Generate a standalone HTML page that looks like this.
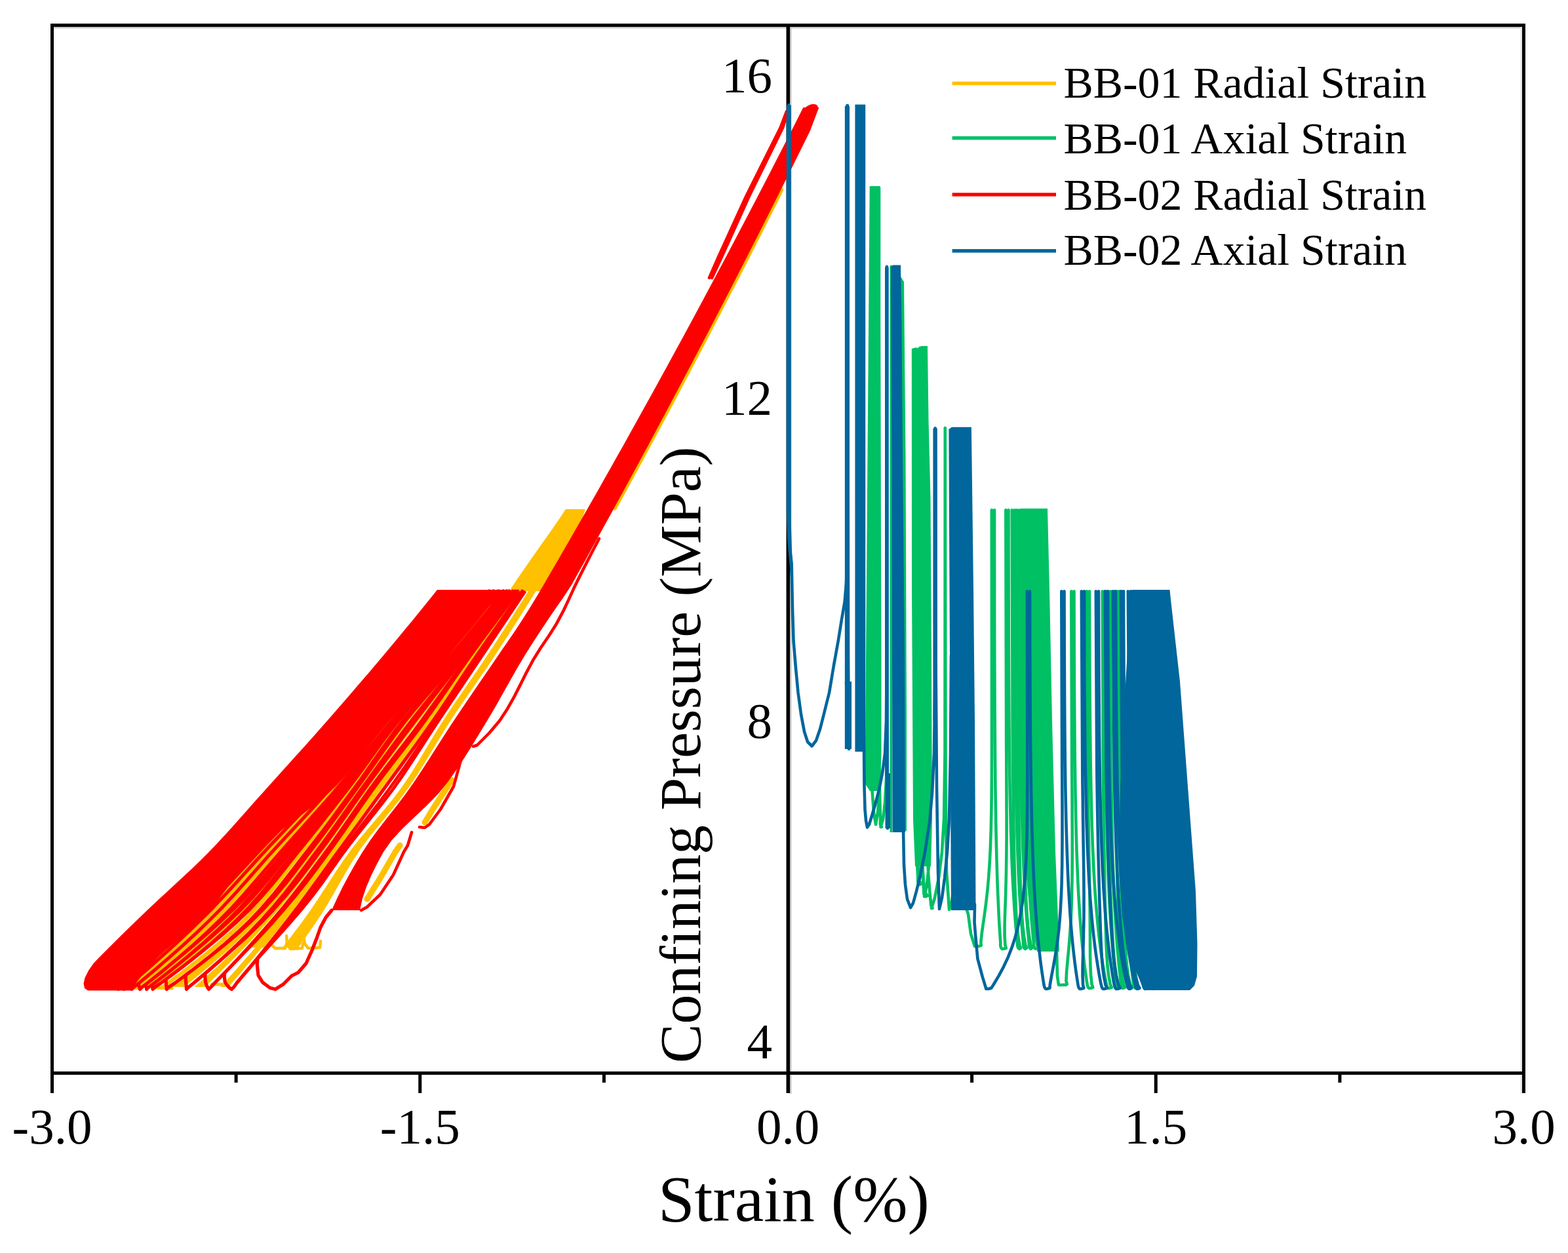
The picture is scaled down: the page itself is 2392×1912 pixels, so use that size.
<!DOCTYPE html>
<html><head><meta charset="utf-8"><title>Strain vs Confining Pressure</title>
<style>html,body{margin:0;padding:0;background:#fff;}svg{display:block;}</style></head>
<body>
<svg width="2392" height="1912" viewBox="0 0 2392 1912">
<rect width="2392" height="1912" fill="#fff"/>
<rect x="82" y="41" width="2240" height="2.4" fill="#c8c8c8"/>
<rect x="1205" y="41" width="2.4" height="1628" fill="#c4c4c4"/>
<rect x="2319.6" y="41" width="2.4" height="1628" fill="#e4e4e4"/>
<rect x="77" y="36" width="2250" height="5" fill="#000"/>
<rect x="77" y="1635" width="2250" height="5" fill="#000"/>
<rect x="77" y="36" width="5" height="1632" fill="#000"/>
<rect x="2322" y="36" width="5" height="1632" fill="#000"/>
<rect x="1199.5" y="36" width="5.5" height="1632" fill="#000"/>
<rect x="638.25" y="1635" width="5" height="33" fill="#000"/>
<rect x="1760.75" y="1635" width="5" height="33" fill="#000"/>
<rect x="357.60" y="1635" width="5" height="17" fill="#000"/>
<rect x="918.90" y="1635" width="5" height="17" fill="#000"/>
<rect x="1480.10" y="1635" width="5" height="17" fill="#000"/>
<rect x="2041.40" y="1635" width="5" height="17" fill="#000"/>
<path d="M863 777L851 794.9L838.7 812.7L826 830.6L813.4 848.4L801 866.3L788.7 884.1L776.7 902L829.1 902L837.6 884.1L846.7 866.3L856.7 848.4L868 830.6L878.8 812.7L887.1 794.9L893 777Z" fill="#ffc000"/>
<path d="M807.8 899L796.1 917.9L784.2 936.7L772.2 955.6L760 974.4L747.7 993.3L735.2 1012.2L722.4 1031L709.4 1049.9L696.5 1068.8L683.8 1087.6L671.5 1106.5L660 1125.3L648.8 1144.2L637.6 1163.1L625.9 1181.9L613.2 1200.8L599 1219.7L583.5 1238.5L567.5 1257.4L551.6 1276.2L536.7 1295.1L523.1 1314L510.4 1332.8L498.2 1351.7L486 1370.6L473.3 1389.4L459.8 1408.3L445.7 1427.1L431.2 1446L455 1446L468.5 1427.1L481.5 1408.3L493.8 1389.4L505.1 1370.6L515.8 1351.7L526.6 1332.8L537.9 1314L550.4 1295.1L564.4 1276.2L579.6 1257.4L595.1 1238.5L610.2 1219.7L624.1 1200.8L636.7 1181.9L648.5 1163.1L659.9 1144.2L671.3 1125.3L683 1106.5L695.4 1087.6L708.2 1068.8L721.2 1049.9L734.3 1031L747.1 1012.2L759.6 993.3L771.9 974.4L784 955.6L795.9 936.7L807.7 917.9L819.4 899Z" fill="#ffc000"/>
<path d="M793.2 899L778.6 917.9L764.2 936.7L750 955.6L735.9 974.4L722 993.3L708.3 1012.2L695 1031L681.8 1049.9L668.6 1068.8L655.2 1087.6L641.5 1106.5L627.3 1125.3L612.8 1144.2L598.2 1163.1L583.8 1181.9L569.8 1200.8L556.3 1219.7L543.2 1238.5L530.2 1257.4L517 1276.2L503.6 1295.1L489.7 1314L475.6 1332.8L461.3 1351.7L446.6 1370.6L431.5 1389.4L416 1408.3L399.9 1427.1L383.4 1446L402.3 1446L417.5 1427.1L432.5 1408.3L447.1 1389.4L461.4 1370.6L475.4 1351.7L489.1 1332.8L502.8 1314L516.6 1295.1L530.2 1276.2L543.6 1257.4L557.1 1238.5L570.5 1219.7L584.1 1200.8L598 1181.9L612.1 1163.1L626.2 1144.2L640.2 1125.3L653.8 1106.5L666.9 1087.6L679.6 1068.8L692 1049.9L704.4 1031L717 1012.2L730 993.3L743.2 974.4L756.6 955.6L770.2 936.7L784 917.9L797.9 899Z" fill="#ffc000"/>
<path d="M794.5 899L778.5 919.9L762.7 940.9L747.2 961.8L731.8 982.7L716.8 1003.7L702.2 1024.6L687.9 1045.5L673.7 1066.4L659.2 1087.4L644.2 1108.3L628.4 1129.2L612.3 1150.2L596.1 1171.1L580.2 1192L565 1213L550.3 1233.9L535.9 1254.8L521.3 1275.8L506.4 1296.7L491 1317.6L475.5 1338.6L459.6 1359.5L443.3 1380.4L426.6 1401.3L409.4 1422.3L391.7 1443.2L373.6 1464.1L355.1 1485.1L336.1 1506L348.7 1506L366.7 1485.1L384.4 1464.1L401.7 1443.2L418.7 1422.3L435.4 1401.3L451.6 1380.4L467.4 1359.5L482.9 1338.6L498.2 1317.6L513.4 1296.7L528.4 1275.8L543.2 1254.8L557.9 1233.9L572.7 1213L587.9 1192L603.6 1171.1L619.5 1150.2L635.3 1129.2L650.7 1108.3L665.4 1087.4L679.5 1066.4L693.3 1045.5L707.1 1024.6L721.3 1003.7L736 982.7L750.9 961.8L766.1 940.9L781.5 919.9L797.1 899Z" fill="#ffc000"/>
<path d="M789.2 899L772.8 919.9L756.4 940.9L740 961.8L723.6 982.7L707.1 1003.7L690.6 1024.6L674 1045.5L657.4 1066.4L641.1 1087.4L625.1 1108.3L609.4 1129.2L593.9 1150.2L578.5 1171.1L563.2 1192L548.1 1213L533.3 1233.9L518.6 1254.8L503.8 1275.8L488.5 1296.7L472.8 1317.6L457 1338.6L440.8 1359.5L423.7 1380.4L405.5 1401.3L386 1422.3L365.2 1443.2L343.4 1464.1L320.4 1485.1L296.5 1506L312.6 1506L334.3 1485.1L355.3 1464.1L375.5 1443.2L394.9 1422.3L413.5 1401.3L431.2 1380.4L448 1359.5L464.1 1338.6L479.9 1317.6L495.4 1296.7L510.5 1275.8L525.2 1254.8L539.7 1233.9L554.4 1213L569.5 1192L585.1 1171.1L600.9 1150.2L616.8 1129.2L632.7 1108.3L648.3 1087.4L663.9 1066.4L679.4 1045.5L694.9 1024.6L710.6 1003.7L726.5 982.7L742.5 961.8L758.6 940.9L774.8 919.9L791.1 899Z" fill="#ffc000"/>
<path d="M785.1 899L768.6 919.9L751.8 940.9L734.8 961.8L717.6 982.7L700.1 1003.7L681.8 1024.6L663.1 1045.5L644.4 1066.4L626.5 1087.4L609.8 1108.3L594.3 1129.2L579.5 1150.2L565 1171.1L550.2 1192L535 1213L519.6 1233.9L504.2 1254.8L488.6 1275.8L472.6 1296.7L456.5 1317.6L440.6 1338.6L424.2 1359.5L406.7 1380.4L387.4 1401.3L366.1 1422.3L342.8 1443.2L317.7 1464.1L290.9 1485.1L262.7 1506L280.7 1506L306.8 1485.1L331.7 1464.1L355.2 1443.2L377.2 1422.3L397.6 1401.3L416.3 1380.4L433.6 1359.5L449.9 1338.6L465.7 1317.6L481.5 1296.7L497.1 1275.8L512.2 1254.8L527.2 1233.9L542.2 1213L557.3 1192L572.3 1171.1L587.2 1150.2L602.3 1129.2L617.9 1108.3L634.2 1087.4L651.3 1066.4L668.9 1045.5L686.5 1024.6L703.9 1003.7L720.9 982.7L737.7 961.8L754.4 940.9L771 919.9L787.5 899Z" fill="#ffc000"/>
<path d="M781 899L764.4 919.9L747.4 940.9L730.2 961.8L712.6 982.7L694.7 1003.7L676 1024.6L656.7 1045.5L637.4 1066.4L618.8 1087.4L601.7 1108.3L585.8 1129.2L570.7 1150.2L555.7 1171.1L540.5 1192L524.6 1213L508.4 1233.9L492.1 1254.8L475.5 1275.8L458.7 1296.7L442 1317.6L425.6 1338.6L408.8 1359.5L390.8 1380.4L371.1 1401.3L349.2 1422.3L325.3 1443.2L299.6 1464.1L272.3 1485.1L243.4 1506L253 1506L282 1485.1L309.4 1464.1L335 1443.2L358.8 1422.3L380.5 1401.3L400 1380.4L417.7 1359.5L434.2 1338.6L450.3 1317.6L466.6 1296.7L482.9 1275.8L498.9 1254.8L514.7 1233.9L530.3 1213L545.8 1192L560.6 1171.1L575.2 1150.2L590 1129.2L605.6 1108.3L622.5 1087.4L640.8 1066.4L659.9 1045.5L679.1 1024.6L697.7 1003.7L715.4 982.7L732.8 961.8L750 940.9L766.8 919.9L783.4 899Z" fill="#ffc000"/>
<path d="M775.8 899L759.3 919.9L742.4 940.9L725.2 961.8L707.7 982.7L689.8 1003.7L671.1 1024.6L651.9 1045.5L632.6 1066.4L613.9 1087.4L596.2 1108.3L579.6 1129.2L563.6 1150.2L547.7 1171.1L531.4 1192L514.4 1213L496.8 1233.9L478.9 1254.8L460.9 1275.8L442.8 1296.7L425.2 1317.6L407.9 1338.6L390.4 1359.5L372 1380.4L352 1401.3L330.3 1422.3L307 1443.2L282.2 1464.1L256.1 1485.1L228.8 1506L234.8 1506L263 1485.1L289.7 1464.1L314.9 1443.2L338.5 1422.3L360.4 1401.3L380.3 1380.4L398.5 1359.5L415.7 1338.6L432.5 1317.6L449.8 1296.7L467.3 1275.8L484.7 1254.8L501.9 1233.9L518.8 1213L535.4 1192L551.2 1171.1L566.7 1150.2L582.3 1129.2L598.6 1108.3L616 1087.4L634.7 1066.4L654 1045.5L673.3 1024.6L692 1003.7L709.9 982.7L727.5 961.8L744.7 940.9L761.6 919.9L778.2 899Z" fill="#ffc000"/>
<path d="M771.6 899L755.1 919.9L738.3 940.9L721.1 961.8L703.6 982.7L685.7 1003.7L667.1 1024.6L647.8 1045.5L628.6 1066.4L609.7 1087.4L591.8 1108.3L574.8 1129.2L558.2 1150.2L541.7 1171.1L524.8 1192L507.1 1213L488.9 1233.9L470.3 1254.8L451.6 1275.8L432.9 1296.7L414.7 1317.6L397 1338.6L379.1 1359.5L360.4 1380.4L340.2 1401.3L318.5 1422.3L295.5 1443.2L271.3 1464.1L245.9 1485.1L219.5 1506L225.2 1506L252.2 1485.1L277.9 1464.1L302.4 1443.2L325.6 1422.3L347.3 1401.3L367.3 1380.4L385.8 1359.5L403.5 1338.6L421 1317.6L438.9 1296.7L457.2 1275.8L475.5 1254.8L493.7 1233.9L511.6 1213L529 1192L545.5 1171.1L561.7 1150.2L577.9 1129.2L594.7 1108.3L612.4 1087.4L631.2 1066.4L650.5 1045.5L669.7 1024.6L688.3 1003.7L706.2 982.7L723.7 961.8L740.9 940.9L757.8 919.9L774.3 899Z" fill="#ffc000"/>
<path d="M765.3 899L748.9 919.9L732 940.9L714.8 961.8L697.3 982.7L679.4 1003.7L660.8 1024.6L641.6 1045.5L622.3 1066.4L603.3 1087.4L585.1 1108.3L567.6 1129.2L550.5 1150.2L533.4 1171.1L515.9 1192L497.6 1213L478.7 1233.9L459.5 1254.8L440.2 1275.8L421 1296.7L402.3 1317.6L384 1338.6L365.6 1359.5L346.5 1380.4L326.1 1401.3L304.5 1422.3L281.8 1443.2L258 1464.1L233.3 1485.1L207.6 1506L214.5 1506L240.7 1485.1L265.8 1464.1L289.8 1443.2L312.7 1422.3L334.4 1401.3L354.6 1380.4L373.4 1359.5L391.6 1338.6L409.5 1317.6L428 1296.7L446.8 1275.8L465.8 1254.8L484.7 1233.9L503.2 1213L521.1 1192L538.3 1171.1L555.1 1150.2L571.9 1129.2L589.1 1108.3L607.2 1087.4L626.1 1066.4L645.4 1045.5L664.6 1024.6L683.2 1003.7L701.1 982.7L718.6 961.8L735.8 940.9L752.7 919.9L769.1 899Z" fill="#ffc000"/>
<path d="M757.8 899L741.4 919.9L724.5 940.9L707.3 961.8L689.8 982.7L671.9 1003.7L653.3 1024.6L634.2 1045.5L614.9 1066.4L595.9 1087.4L577.4 1108.3L559.6 1129.2L542 1150.2L524.4 1171.1L506.3 1192L487.6 1213L468.3 1233.9L448.6 1254.8L428.7 1275.8L409.1 1296.7L389.9 1317.6L371 1338.6L352.1 1359.5L332.6 1380.4L312.1 1401.3L290.5 1422.3L268 1443.2L244.7 1464.1L220.6 1485.1L195.8 1506L201.7 1506L227 1485.1L251.4 1464.1L274.9 1443.2L297.5 1422.3L319.1 1401.3L339.6 1380.4L358.8 1359.5L377.5 1338.6L396.1 1317.6L415 1296.7L434.5 1275.8L454.1 1254.8L473.5 1233.9L492.7 1213L511.2 1192L529 1171.1L546.4 1150.2L563.7 1129.2L581.4 1108.3L599.7 1087.4L618.8 1066.4L638 1045.5L657.2 1024.6L675.8 1003.7L693.7 982.7L711.2 961.8L728.4 940.9L745.3 919.9L761.7 899Z" fill="#ffc000"/>
<path d="M750.7 899L734.2 919.9L717.4 940.9L700.2 961.8L682.6 982.7L664.7 1003.7L646.2 1024.6L627.2 1045.5L608 1066.4L588.9 1087.4L570.3 1108.3L552.2 1129.2L534.3 1150.2L516.3 1171.1L497.9 1192L478.9 1213L459.2 1233.9L439.2 1254.8L419.1 1275.8L399.1 1296.7L379.6 1317.6L360.3 1338.6L341 1359.5L321.1 1380.4L300.5 1401.3L278.9 1422.3L256.6 1443.2L233.7 1464.1L210.1 1485.1L185.8 1506L189.8 1506L214.3 1485.1L238.1 1464.1L261.2 1443.2L283.5 1422.3L305.1 1401.3L325.7 1380.4L345.4 1359.5L364.6 1338.6L383.7 1317.6L403.1 1296.7L423 1275.8L443 1254.8L462.9 1233.9L482.4 1213L501.3 1192L519.6 1171.1L537.5 1150.2L555.2 1129.2L573.2 1108.3L591.8 1087.4L610.9 1066.4L630.1 1045.5L649.2 1024.6L667.7 1003.7L685.6 982.7L703.1 961.8L720.3 940.9L737.2 919.9L753.6 899Z" fill="#ffc000"/>
<path d="M744.4 899L727.9 919.9L711 940.9L693.8 961.8L676.3 982.7L658.4 1003.7L640 1024.6L621 1045.5L601.8 1066.4L582.8 1087.4L564.1 1108.3L545.8 1129.2L527.7 1150.2L509.5 1171.1L490.9 1192L471.6 1213L451.8 1233.9L431.6 1254.8L411.4 1275.8L391.2 1296.7L371.3 1317.6L351.7 1338.6L332 1359.5L312 1380.4L291.2 1401.3L269.6 1422.3L247.5 1443.2L224.8 1464.1L201.6 1485.1L177.8 1506L180.8 1506L204.8 1485.1L228.1 1464.1L250.9 1443.2L273.1 1422.3L294.6 1401.3L315.4 1380.4L335.4 1359.5L354.9 1338.6L374.4 1317.6L394.2 1296.7L414.3 1275.8L434.5 1254.8L454.6 1233.9L474.4 1213L493.5 1192L512.1 1171.1L530.2 1150.2L548.3 1129.2L566.5 1108.3L585.1 1087.4L604.2 1066.4L623.4 1045.5L642.4 1024.6L660.9 1003.7L678.7 982.7L696.3 961.8L713.5 940.9L730.3 919.9L746.8 899Z" fill="#ffc000"/>
<path d="M489 1436L488 1446L470 1447L465 1440L462 1425 M462 1440L461 1447L443 1448L438 1440L437 1428 M437 1440L435 1447L420 1447L412 1440" fill="none" stroke="#ffc000" stroke-width="4.5" stroke-linejoin="round" stroke-linecap="round"/>
<path d="M323 1502L345 1502 M196 1507L215 1508 M232 1507L262 1508" fill="none" stroke="#ffc000" stroke-width="5" stroke-linejoin="round" stroke-linecap="round"/>
<path d="M1191.6 290L1183.2 306.7L1174.8 323.4L1166.3 340.2L1157.9 356.9L1149.4 373.6L1140.9 390.3L1132.3 407.1L1123.8 423.8L1115.2 440.5L1106.5 457.2L1097.9 474L1089.2 490.7L1080.5 507.4L1071.8 524.1L1063 540.9L1054.2 557.6L1045.4 574.3L1036.5 591L1027.7 607.8L1018.8 624.5L1009.9 641.2L1000.9 657.9L991.9 674.7L982.9 691.4L973.9 708.1L964.8 724.8L955.7 741.6L946.6 758.3L937.5 775" fill="none" stroke="#ffc000" stroke-width="7" stroke-linejoin="round" stroke-linecap="round"/>
<path d="M689 1190L683 1200L660 1235L648 1255 M610 1290L603 1300L580 1340L560 1372" fill="none" stroke="#ffc000" stroke-width="9" stroke-linejoin="round" stroke-linecap="round"/>
<path d="M913.9 822L904.2 840.5L894.6 859.1L885.2 877.6L876.2 896.1L867.7 914.6L858.9 933.2L849 951.7L837.3 970.2L824.7 988.8L813.2 1007.3L803.3 1025.8L794 1044.4L784.6 1062.9L774.2 1081.4L762 1099.9L746.4 1118.5L728 1137L722 1139 M705 1150L703 1160L692 1200L672 1235L655 1258L648 1263L640 1262 M628 1270L622 1290L616 1300L600 1335L580 1365L560 1384L551 1389" fill="none" stroke="#ff0000" stroke-width="4.6" stroke-linejoin="round" stroke-linecap="round"/>
<path d="M1225.3 164L1216.4 181.8L1207.4 199.5L1198.3 217.3L1189.2 235L1180.1 252.8L1171 270.5L1161.8 288.3L1152.6 306L1143.3 323.8L1134 341.5L1124.7 359.3L1115.4 377L1106 394.8L1096.6 412.6L1087.1 430.3L1077.6 448.1L1068.1 465.8L1058.6 483.6L1049 501.3L1039.4 519.1L1029.7 536.8L1020 554.6L1010.3 572.3L1000.6 590.1L990.8 607.8L980.9 625.6L971.1 643.3L961.2 661.1L951.3 678.9L941.3 696.6L931.3 714.4L921.3 732.1L911.3 749.9L901.2 767.6L891 785.4L880.9 803.1L870.7 820.9L860.5 838.6L850.2 856.4L839.9 874.1L829.6 891.9L819.1 909.7L808.3 927.4L797.1 945.2L785.5 962.9L773.3 980.7L761.1 998.4L749 1016.2L736.8 1033.9L724.7 1051.7L712.6 1069.4L700.6 1087.2L688.7 1104.9L677.2 1122.7L665.9 1140.4L654.6 1158.2L643.1 1176L631.3 1193.7L618.8 1211.5L605.3 1229.2L591.4 1247L577.6 1264.7L564.6 1282.5L552.9 1300.2L542.2 1318L532.2 1335.7L522.7 1353.5L514 1371.2L506 1389L549 1389L552.9 1371.2L558.9 1353.5L566.4 1335.7L575.2 1318L584.9 1300.2L597.3 1282.5L613.7 1264.7L632.2 1247L651 1229.2L668.4 1211.5L682.7 1193.7L695.4 1176L707.2 1158.2L718.4 1140.4L729.2 1122.7L740 1104.9L750.7 1087.2L760.9 1069.4L770.8 1051.7L780.8 1033.9L790.9 1016.2L801.6 998.4L812.8 980.7L824.4 962.9L836.2 945.2L848.3 927.4L860.7 909.7L872.3 891.9L882.2 874.1L892.1 856.4L901.9 838.6L911.7 820.9L921.5 803.1L931.3 785.4L941 767.6L950.7 749.9L960.4 732.1L970 714.4L979.6 696.6L989.2 678.9L998.7 661.1L1008.2 643.3L1017.7 625.6L1027.1 607.8L1036.5 590.1L1045.9 572.3L1055.3 554.6L1064.6 536.8L1073.9 519.1L1083.2 501.3L1092.4 483.6L1101.6 465.8L1110.8 448.1L1119.9 430.3L1129 412.6L1138.1 394.8L1147.1 377L1156.2 359.3L1165.1 341.5L1174.1 323.8L1183 306L1191.9 288.3L1200.8 270.5L1209.6 252.8L1218.4 235L1227.2 217.3L1235.9 199.5L1242.6 181.8L1249.3 164Z" fill="#ff0000"/>
<ellipse cx="1236.5" cy="167" rx="12" ry="7" fill="#ff0000" transform="rotate(-25 1236.5 167)"/>
<path d="M667 900L657.8 911.5L648.5 922.9L639.2 934.4L629.9 945.9L620.5 957.3L611 968.8L601.5 980.3L591.9 991.8L582.3 1003.2L572.6 1014.7L562.9 1026.2L553.1 1037.6L543.2 1049.1L533.4 1060.6L523.4 1072L513.4 1083.5L503.4 1095L493.3 1106.4L483.2 1117.9L473 1129.4L462.7 1140.9L452.4 1152.3L442.1 1163.8L431.7 1175.3L421.4 1186.7L411 1198.2L400.7 1209.7L390.5 1221.1L380.4 1232.6L370.2 1244.1L360 1255.6L349.7 1267L339.1 1278.5L328.4 1290L317.3 1301.4L305.8 1312.9L293.9 1324.4L281.8 1335.8L269.4 1347.3L257 1358.8L244.5 1370.2L232.2 1381.7L220.1 1393.2L208.2 1404.7L196.5 1416.1L184.8 1427.6L173.2 1439.1L161.7 1450.5L150.2 1462L142.7 1470L135 1481L129.5 1492L127.5 1501L129 1508L134 1511.5L199.7 1511.5L208.3 1499L217.9 1486.5L228.4 1474.1L240.2 1461.6L253.9 1449.1L268.7 1436.6L283.7 1424.1L298 1411.7L310.8 1399.2L321.9 1386.7L332 1374.2L341.5 1361.7L350.7 1349.3L360 1336.8L369.7 1324.3L380.1 1311.8L391.6 1299.3L404.9 1286.9L419.7 1274.4L435.7 1261.9L452.2 1249.4L468.6 1236.9L484.6 1224.5L499.3 1212L512.5 1199.5L524.1 1187L534.9 1174.6L545 1162.1L554.8 1149.6L564.3 1137.1L573.9 1124.6L583.8 1112.2L594.3 1099.7L605.4 1087.2L617 1074.7L628.8 1062.2L640.8 1049.8L652.6 1037.3L664 1024.8L675 1012.3L685.1 999.8L694 987.4L702 974.9L710.3 962.4L720.1 949.9L732 937.4L745.8 925L761.2 912.5L778 900Z" fill="#ff0000"/>
<path d="M796.8 902L782.8 921.3L769 940.6L755.3 959.9L741.8 979.2L728.5 998.5L715.4 1017.7L702.6 1037L690 1056.3L677.2 1075.6L664.2 1094.9L650.7 1114.2L636.9 1133.5L622.9 1152.8L608.8 1172.1L594.7 1191.4L580.7 1210.6L566.7 1229.9L552.6 1249.2L538.6 1268.5L524.5 1287.8L510.4 1307.1L496.5 1326.4L482.6 1345.7L468.6 1365L454.3 1384.3L439.5 1403.5L424.5 1422.8L409.1 1442.1L393.4 1461.4L377.4 1480.7L361.1 1500L356.9 1506L353.4 1509.5 M420 1509.5L411.9 1507.5L400.5 1498.9L393.9 1488.1L392.3 1472.5L392.9 1462 M789.9 902L775 921.3L760.2 940.6L745.5 959.9L731 979.2L716.6 998.5L702.5 1017.7L688.6 1037L674.8 1056.3L660.9 1075.6L646.9 1094.9L632.6 1114.2L617.9 1133.5L603 1152.8L588.3 1172.1L573.8 1191.4L559.8 1210.6L546.2 1229.9L532.9 1249.2L519.5 1268.5L505.9 1287.8L491.8 1307.1L477.4 1326.4L462.8 1345.7L447.8 1365L432.4 1384.3L416.3 1403.5L399.6 1422.8L382.4 1442.1L364.6 1461.4L346.3 1480.7L327.5 1500L322 1506L318.5 1509.5 M353.4 1509.5L350.2 1507.5L345.7 1502.5L343.2 1498.2L342.2 1489.9L342.8 1484.4 M786 902L770.8 921.3L755.6 940.6L740.3 959.9L725 979.2L709.6 998.5L694.1 1017.7L678.3 1037L662.5 1056.3L646.8 1075.6L631.6 1094.9L616.9 1114.2L602.5 1133.5L588.5 1152.8L574.5 1172.1L560.6 1191.4L546.7 1210.6L532.9 1229.9L519.3 1249.2L505.6 1268.5L491.5 1287.8L477 1307.1L462.6 1326.4L447.9 1345.7L432.7 1365L416.6 1384.3L399.4 1403.5L380.9 1422.8L361.1 1442.1L340.3 1461.4L318.4 1480.7L295.6 1500L288.1 1506L284.6 1509.5 M318.5 1509.5L317 1507.5L314.8 1502.6L313.6 1498.5L312.8 1490.4L313.4 1485.1 M782.1 902L766.8 921.3L751.3 940.6L735.6 959.9L719.7 979.2L703.5 998.5L686.8 1017.7L669.4 1037L651.9 1056.3L634.8 1075.6L618.5 1094.9L603.5 1114.2L589.5 1133.5L575.9 1152.8L562.5 1172.1L548.9 1191.4L534.8 1210.6L520.6 1229.9L506.3 1249.2L491.8 1268.5L477.1 1287.8L462.1 1307.1L447.4 1326.4L432.5 1345.7L417.1 1365L400.6 1384.3L382.5 1403.5L362.5 1422.8L340.9 1442.1L317.6 1461.4L292.9 1480.7L266.9 1500L257.8 1506L254.3 1509.5 M284.6 1509.5L284.3 1507.5L284 1503L283.7 1499.7L283.1 1492.5L283.7 1487.6 M776.7 902L761.4 921.3L745.8 940.6L729.9 959.9L713.7 979.2L697.3 998.5L680.3 1017.7L662.6 1037L644.7 1056.3L627.2 1075.6L610.4 1094.9L594.8 1114.2L580.2 1133.5L566 1152.8L551.9 1172.1L537.4 1191.4L522.4 1210.6L507.1 1229.9L491.5 1249.2L475.8 1268.5L459.9 1287.8L444 1307.1L428.5 1326.4L413 1345.7L397.1 1365L380.1 1384.3L361.5 1403.5L341.2 1422.8L319.4 1442.1L296.1 1461.4L271.5 1480.7L245.6 1500L236.6 1506L233.1 1509.5 M254.3 1509.5L254.1 1507.5L253.9 1504L253.7 1502.6L253.1 1497.5L253.7 1494.1 M773 902L757.8 921.3L742.2 940.6L726.4 959.9L710.3 979.2L693.9 998.5L676.9 1017.7L659.3 1037L641.5 1056.3L623.9 1075.6L606.9 1094.9L591 1114.2L575.9 1133.5L561.1 1152.8L546.3 1172.1L531.2 1191.4L515.5 1210.6L499.3 1229.9L482.7 1249.2L466.1 1268.5L449.3 1287.8L432.7 1307.1L416.6 1326.4L400.7 1345.7L384.3 1365L367.1 1384.3L348.4 1403.5L328.2 1422.8L306.8 1442.1L284.2 1461.4L260.5 1480.7L235.6 1500L227.2 1506L223.7 1509.5 M233.1 1509.5L233 1507.5L232.7 1505.4L232.6 1506.3L231.9 1503.9L232.5 1502.4 M768.3 902L753.1 921.3L737.6 940.6L721.7 959.9L705.6 979.2L689.2 998.5L672.3 1017.7L654.7 1037L636.9 1056.3L619.2 1075.6L602.1 1094.9L585.8 1114.2L570.2 1133.5L554.9 1152.8L539.6 1172.1L523.9 1191.4L507.6 1210.6L490.7 1229.9L473.5 1249.2L456.2 1268.5L438.9 1287.8L421.8 1307.1L405.2 1326.4L388.7 1345.7L372 1365L354.5 1384.3L335.6 1403.5L315.6 1422.8L294.5 1442.1L272.3 1461.4L249.2 1480.7L225.1 1500L217.1 1506L213.6 1509.5 M223.7 1509.5L223.4 1507.5L223 1505.3L222.8 1506.1L222.2 1503.6L222.8 1501.9 M761.2 902L746 921.3L730.5 940.6L714.7 959.9L698.5 979.2L682.1 998.5L665.2 1017.7L647.7 1037L629.9 1056.3L612.2 1075.6L594.9 1094.9L578.3 1114.2L562.2 1133.5L546.3 1152.8L530.4 1172.1L514.1 1191.4L497.2 1210.6L479.8 1229.9L462 1249.2L444.1 1268.5L426.2 1287.8L408.6 1307.1L391.4 1326.4L374.5 1345.7L357.3 1365L339.4 1384.3L320.4 1403.5L300.4 1422.8L279.5 1442.1L257.8 1461.4L235.3 1480.7L212.1 1500L204.5 1506L201 1509.5 M213.6 1509.5L213.1 1507.5L212.4 1505L212.1 1505.3L211.4 1502.1L212 1500.1 M753.4 902L738.2 921.3L722.7 940.6L706.9 959.9L690.7 979.2L674.3 998.5L657.4 1017.7L640 1037L622.2 1056.3L604.5 1075.6L587.1 1094.9L570.3 1114.2L553.8 1133.5L537.6 1152.8L521.2 1172.1L504.5 1191.4L487.1 1210.6L469.3 1229.9L451.1 1249.2L432.7 1268.5L414.5 1287.8L396.4 1307.1L378.8 1326.4L361.4 1345.7L343.7 1365L325.5 1384.3L306.4 1403.5L286.4 1422.8L265.8 1442.1L244.5 1461.4L222.5 1480.7L199.9 1500L192.7 1506L189.2 1509.5 M201 1509.5L200.4 1507.5L199.6 1505.1L199.2 1505.5L198.5 1502.6L199.1 1500.7 M746.8 902L731.6 921.3L716.1 940.6L700.2 959.9L684.1 979.2L667.7 998.5L650.8 1017.7L633.4 1037L615.8 1056.3L598.1 1075.6L580.7 1094.9L563.7 1114.2L547 1133.5L530.5 1152.8L513.8 1172.1L496.8 1191.4L479.2 1210.6L461.1 1229.9L442.7 1249.2L424.2 1268.5L405.6 1287.8L387.3 1307.1L369.4 1326.4L351.6 1345.7L333.6 1365L315.1 1384.3L295.9 1403.5L276 1422.8L255.5 1442.1L234.5 1461.4L212.9 1480.7L190.8 1500L183.8 1506L180.3 1509.5 M189.2 1509.5L188.7 1507.5L188.1 1505.4L187.7 1506.5L187 1504.2L187.6 1502.7 M506 1389L497 1400L489 1415L483 1432L476 1450L467 1470L455 1484L445 1489L432 1502L420 1509.5" fill="none" stroke="#ff0000" stroke-width="5.2" stroke-linejoin="round" stroke-linecap="round"/>
<path d="M799.3 902L785.2 922.3L771.3 942.6L757.4 962.8L743.6 983.1L729.8 1003.4L716.3 1023.7L702.8 1043.9L689.4 1064.2L675.8 1084.5L662.2 1104.8L648.5 1125L634.7 1145.3L620.8 1165.6L606.6 1185.9L592.1 1206.1L577 1226.4L561.5 1246.7L545.9 1267L530.5 1287.2L515.5 1307.5L501 1327.8L486.6 1348.1L471.6 1368.3L455.8 1388.6L439.1 1408.9L421.8 1429.2L404.4 1449.4L386.9 1469.7L369.6 1490 M801.3 902L787.8 922.3L774.2 942.6L760.7 962.8L747.1 983.1L733.6 1003.4L720 1023.7L706.4 1043.9L692.8 1064.2L679.2 1084.5L665.7 1104.8L652.5 1125L639.4 1145.3L626.2 1165.6L612.6 1185.9L598.2 1206.1L582.8 1226.4L566.8 1246.7L550.5 1267L534.6 1287.2L519.5 1307.5L505.2 1327.8L490.9 1348.1L475.7 1368.3L459.4 1388.6L441.8 1408.9L423.7 1429.2L405.3 1449.4L387.1 1469.7L369.6 1490 M791.5 902L776 922.3L760.6 942.6L745.5 962.8L730.5 983.1L715.8 1003.4L701.5 1023.7L687.5 1043.9L673.6 1064.2L659.4 1084.5L644.8 1104.8L629.6 1125L614 1145.3L598.3 1165.6L582.8 1185.9L567.9 1206.1L553.5 1226.4L539.5 1246.7L525.5 1267L511.2 1287.2L496.5 1307.5L481.4 1327.8L466 1348.1L449.8 1368.3L432.7 1388.6L414.9 1408.9L396.3 1429.2L377 1449.4L357.2 1469.7L337.3 1490 M787.4 902L771.5 922.3L755.7 942.6L739.9 962.8L724.1 983.1L708.3 1003.4L692.5 1023.7L676.7 1043.9L661 1064.2L645.4 1084.5L629.9 1104.8L614.6 1125L599.5 1145.3L584.4 1165.6L569.5 1185.9L554.7 1206.1L540.3 1226.4L526.2 1246.7L511.9 1267L497.4 1287.2L482.4 1307.5L467.2 1327.8L451.5 1348.1L434.9 1368.3L417 1388.6L397.7 1408.9L376.9 1429.2L354.7 1449.4L331.5 1469.7L307.5 1490 M783.6 902L767.6 922.3L751.4 942.6L735 962.8L718.4 983.1L701.6 1003.4L684.1 1023.7L666.3 1043.9L648.5 1064.2L631.2 1084.5L615 1104.8L599.9 1125L585.4 1145.3L571.2 1165.6L556.9 1185.9L542.3 1206.1L527.6 1226.4L512.8 1246.7L497.9 1267L482.8 1287.2L467.2 1307.5L451.9 1327.8L436.2 1348.1L419.3 1368.3L400.8 1388.6L380.4 1408.9L357.8 1429.2L333.4 1449.4L307.5 1469.7L280.5 1490 M778.3 902L762.2 922.3L745.7 942.6L729 962.8L712 983.1L694.6 1003.4L676.5 1023.7L657.8 1043.9L639.1 1064.2L621 1084.5L604.1 1104.8L588.5 1125L573.7 1145.3L559.2 1165.6L544.5 1185.9L529.2 1206.1L513.5 1226.4L497.6 1246.7L481.6 1267L465.3 1287.2L448.9 1307.5L432.9 1327.8L416.7 1348.1L399.3 1368.3L380.3 1388.6L359.2 1408.9L336.2 1429.2L311.7 1449.4L285.9 1469.7L259.2 1490 M774.9 902L758.8 922.3L742.4 942.6L725.7 962.8L708.7 983.1L691.3 1003.4L673.2 1023.7L654.6 1043.9L635.9 1064.2L617.6 1084.5L600.5 1104.8L584.4 1125L569 1145.3L553.9 1165.6L538.5 1185.9L522.5 1206.1L505.9 1226.4L489 1246.7L472 1267L454.8 1287.2L437.7 1307.5L421.1 1327.8L404.3 1348.1L386.6 1368.3L367.3 1388.6L346.1 1408.9L323.3 1429.2L299.3 1449.4L274.4 1469.7L248.6 1490 M771.1 902L755.1 922.3L738.7 942.6L722 962.8L705.1 983.1L687.7 1003.4L669.7 1023.7L651.1 1043.9L632.4 1064.2L614.1 1084.5L596.7 1104.8L580.3 1125L564.4 1145.3L548.6 1165.6L532.6 1185.9L515.9 1206.1L498.6 1226.4L481 1246.7L463.1 1267L445.2 1287.2L427.5 1307.5L410.3 1327.8L393.1 1348.1L374.9 1368.3L355.2 1388.6L333.8 1408.9L311 1429.2L287.3 1449.4L262.8 1469.7L237.7 1490" fill="none" stroke="#ff0000" stroke-width="4.6" stroke-linejoin="round" stroke-linecap="butt"/>
<path d="M1200 170L1190.5 195L1138 300L1096 392L1082 424 M1200 176L1194 195L1142.5 300L1101 392L1086 424" fill="none" stroke="#ff0000" stroke-width="4.6" stroke-linejoin="round" stroke-linecap="round"/>
<path d="M1326.7 284L1341.6 284L1343 500L1344.5 1000L1344.5 1150L1342 1207L1327 1207L1319 1195L1318 1150L1320 1130Z" fill="#00c064"/>
<rect x="1357.5" y="405" width="3.5" height="865" fill="#00c064"/>
<path d="M1374 422L1379 430L1381.5 700L1383 1100L1383 1268L1374 1268Z" fill="#00c064"/>
<path d="M1390.8 532L1398.5 530L1399.5 552L1401 529.5L1406 528L1415 528L1416.5 640L1419.5 760L1421 1000L1422 1250L1420 1322L1396 1322L1393 1250L1391 900Z" fill="#00c064"/>
<path d="M1552.4 779L1560 776L1598 776L1601 900L1605 1100L1610 1300L1614 1400L1616 1452L1582 1452L1572 1400L1562 1300L1557 1100L1554 900Z" fill="#00c064"/>
<path d="M1341 286.3L1341 375.8L1341 465.2L1341 554.7L1341 644.2L1341 733.6L1341 823.1L1341 912.5L1341 1002L1341 1015.2L1341.1 1028.3L1341.1 1041.5L1341.1 1054.6L1341.1 1067.8L1341.1 1080.9L1341.2 1094.1L1341.2 1107.3L1341.2 1120.4L1341.3 1133.6L1341.4 1146.7L1341.5 1159.9L1341.6 1173.1L1341.7 1186.2L1341.9 1199.4L1342.1 1212.5L1342.4 1225.7L1342.7 1238.8L1343.1 1252L1342.7 1257L1343.5 1260L1345 1261.7 M1343.5 1262L1347 1250L1350 1225L1352 1190L1353 1150 M1330 1200L1333 1240L1336 1258 M1336 1258L1339 1240L1341 1215 M1396 533.3L1396 602.9L1396 672.5L1396 742.1L1396 811.6L1396 881.2L1396 950.8L1396 1020.4L1396.1 1090L1396.1 1103.2L1396.2 1116.3L1396.2 1129.5L1396.3 1142.6L1396.3 1155.8L1396.4 1168.9L1396.5 1182.1L1396.5 1195.3L1396.7 1208.4L1396.8 1221.6L1397 1234.7L1397.2 1247.9L1397.4 1261.1L1397.7 1274.2L1398 1287.4L1398.5 1300.5L1399 1313.7L1399.6 1326.8L1400.3 1340L1400.2 1345L1401 1348L1402.5 1349.7 M1404 533.3L1404 605.1L1404 677L1404 748.8L1404 820.6L1404 892.5L1404 964.3L1404.1 1036.2L1404.1 1108L1404.2 1121.2L1404.2 1134.3L1404.3 1147.5L1404.3 1160.6L1404.4 1173.8L1404.5 1186.9L1404.5 1200.1L1404.7 1213.3L1404.8 1226.4L1405 1239.6L1405.2 1252.7L1405.4 1265.9L1405.7 1279.1L1406 1292.2L1406.5 1305.4L1407 1318.5L1407.6 1331.7L1408.3 1344.8L1409.2 1358L1409.2 1363L1410 1366L1411.5 1367.7 M1402.5 1349.7L1402.9 1350L1405.1 1348.8L1402.3 1344L1400.6 1329.9L1399.7 1315.8L1399.2 1301.7L1399 1287.7L1398.9 1273.6L1398.9 1259.5L1399 1245.4L1399.1 1231.3L1399.1 1217.2L1399.2 1203.1L1399.3 1189L1399.4 1175L1399.4 1160.9L1399.5 1146.8L1399.5 1132.7L1399.6 1118.6L1399.6 1104.5L1399.6 1090.4L1399.7 1076.3L1399.7 1062.3L1399.7 1048.2L1399.7 1034.1L1399.7 1020L1399.8 533.3 M1412 533.3L1412 607.4L1412 681.5L1412 755.6L1412 829.6L1412 903.7L1412 977.8L1412.1 1051.9L1412.2 1126L1412.3 1139.2L1412.3 1152.3L1412.4 1165.5L1412.5 1178.6L1412.6 1191.8L1412.7 1204.9L1412.8 1218.1L1413 1231.3L1413.2 1244.4L1413.4 1257.6L1413.7 1270.7L1414.1 1283.9L1414.5 1297.1L1415 1310.2L1415.7 1323.4L1416.4 1336.5L1417.4 1349.7L1418.5 1362.8L1419.8 1376L1420.2 1381L1421 1384L1422.5 1385.7 M1411.5 1367.7L1412.3 1368L1415 1366.8L1411.3 1362L1409.2 1347.9L1408.1 1333.8L1407.4 1319.7L1407.1 1305.7L1407 1291.6L1407 1277.5L1407 1263.4L1407.1 1249.3L1407.1 1235.2L1407.2 1221.1L1407.3 1207L1407.4 1193L1407.4 1178.9L1407.5 1164.8L1407.5 1150.7L1407.6 1136.6L1407.6 1122.5L1407.6 1108.4L1407.7 1094.3L1407.7 1080.3L1407.7 1066.2L1407.7 1052.1L1407.7 1038L1407.8 533.3 M1401 1350L1404 1335L1406 1310 M1410 1368L1414 1350L1417 1320 M1421 1386L1426 1370L1432 1340L1437 1300L1440 1250L1441.5 1150L1441.8 653 M1441.8 653L1442.5 1200L1444 1330L1448 1388L1452 1375L1457 1340L1460 1300 M1460 1300L1466 1350L1472 1380L1477 1395L1481 1425L1487 1444 M1517 778.3L1517 829.5L1517.1 880.7L1517.1 931.9L1517.2 983.1L1517.4 1034.4L1517.6 1085.6L1517.9 1136.8L1518.3 1188L1518.4 1201.2L1518.6 1214.3L1518.8 1227.5L1519 1240.6L1519.2 1253.8L1519.4 1266.9L1519.7 1280.1L1520 1293.3L1520.3 1306.4L1520.7 1319.6L1521.1 1332.7L1521.5 1345.9L1522 1359.1L1522.6 1372.2L1523.2 1385.4L1523.8 1398.5L1524.5 1411.7L1525.4 1424.8L1526.3 1438L1526.2 1443L1527 1446L1528.5 1447.7 M1490.5 1443.7L1492.6 1444L1496.8 1442.8L1496.3 1438L1497.8 1423.9L1499.8 1409.8L1501.8 1395.7L1503.7 1381.7L1505.4 1367.6L1506.9 1353.5L1508.1 1339.4L1509.1 1325.3L1510 1311.2L1510.7 1297.1L1511.2 1283L1511.7 1269L1512 1254.9L1512.3 1240.8L1512.5 1226.7L1512.7 1212.6L1512.8 1198.5L1512.9 1184.4L1512.9 1170.3L1513 1156.3L1513 1142.2L1513 1128.1L1513 1114L1512.8 778.3 M1538.5 778.3L1538.5 829.5L1538.6 880.7L1538.7 931.9L1538.8 983.1L1539 1034.4L1539.3 1085.6L1539.7 1136.8L1540.4 1188L1540.6 1201.2L1540.8 1214.3L1541.1 1227.5L1541.4 1240.6L1541.7 1253.8L1542 1266.9L1542.4 1280.1L1542.9 1293.3L1543.3 1306.4L1543.8 1319.6L1544.4 1332.7L1545.1 1345.9L1545.8 1359.1L1546.6 1372.2L1547.4 1385.4L1548.4 1398.5L1549.4 1411.7L1550.6 1424.8L1551.9 1438L1552.2 1443L1553 1446L1554.5 1447.7 M1528.5 1447.7L1530.6 1448L1534.8 1446.8L1533.4 1442L1532.6 1427.9L1532.6 1413.8L1532.9 1399.7L1533.4 1385.7L1533.9 1371.6L1534.3 1357.5L1534.7 1343.4L1535 1329.3L1535.2 1315.2L1535.4 1301.1L1535.5 1287L1535.6 1273L1535.6 1258.9L1535.6 1244.8L1535.5 1230.7L1535.5 1216.6L1535.4 1202.5L1535.4 1188.4L1535.3 1174.3L1535.3 1160.3L1535.2 1146.2L1535.1 1132.1L1535.1 1118L1534.3 778.3 M1548 778.3L1548 829.5L1548.1 880.7L1548.2 931.9L1548.3 983.1L1548.5 1034.4L1548.8 1085.6L1549.2 1136.8L1549.8 1188L1550 1201.2L1550.3 1214.3L1550.5 1227.5L1550.8 1240.6L1551.1 1253.8L1551.4 1266.9L1551.8 1280.1L1552.2 1293.3L1552.7 1306.4L1553.2 1319.6L1553.7 1332.7L1554.3 1345.9L1555 1359.1L1555.8 1372.2L1556.6 1385.4L1557.5 1398.5L1558.6 1411.7L1559.7 1424.8L1561 1438L1561.2 1443L1562 1446L1563.5 1447.7 M1554.5 1447.7L1554.9 1448L1557.1 1446.8L1555.4 1442L1553.1 1427.9L1551.6 1413.8L1550.5 1399.7L1549.7 1385.7L1549.1 1371.6L1548.6 1357.5L1548.2 1343.4L1547.8 1329.3L1547.4 1315.2L1547.1 1301.1L1546.8 1287L1546.6 1273L1546.3 1258.9L1546.1 1244.8L1545.9 1230.7L1545.7 1216.6L1545.5 1202.5L1545.4 1188.4L1545.2 1174.3L1545.1 1160.3L1544.9 1146.2L1544.8 1132.1L1544.7 1118L1543.8 778.3 M1556 778.3L1556 829.5L1556.1 880.7L1556.2 931.9L1556.3 983.1L1556.5 1034.4L1556.8 1085.6L1557.3 1136.8L1557.9 1188L1558.1 1201.2L1558.4 1214.3L1558.6 1227.5L1558.9 1240.6L1559.2 1253.8L1559.6 1266.9L1560 1280.1L1560.4 1293.3L1560.9 1306.4L1561.4 1319.6L1562 1332.7L1562.7 1345.9L1563.4 1359.1L1564.2 1372.2L1565 1385.4L1566 1398.5L1567.1 1411.7L1568.3 1424.8L1569.6 1438L1569.9 1443L1570.7 1446L1572.2 1447.7 M1563.5 1447.7L1563.8 1448L1566 1446.8L1564.3 1442L1561.9 1427.9L1560.3 1413.8L1559.1 1399.7L1558.3 1385.7L1557.6 1371.6L1557 1357.5L1556.5 1343.4L1556.1 1329.3L1555.7 1315.2L1555.4 1301.1L1555.1 1287L1554.8 1273L1554.5 1258.9L1554.3 1244.8L1554 1230.7L1553.8 1216.6L1553.6 1202.5L1553.5 1188.4L1553.3 1174.3L1553.1 1160.3L1553 1146.2L1552.9 1132.1L1552.8 1118L1551.8 778.3 M1563 778.3L1563 829.5L1563.1 880.7L1563.2 931.9L1563.3 983.1L1563.5 1034.4L1563.8 1085.6L1564.3 1136.8L1565 1188L1565.2 1201.2L1565.4 1214.3L1565.7 1227.5L1566 1240.6L1566.3 1253.8L1566.7 1266.9L1567.1 1280.1L1567.5 1293.3L1568 1306.4L1568.5 1319.6L1569.1 1332.7L1569.8 1345.9L1570.5 1359.1L1571.3 1372.2L1572.2 1385.4L1573.2 1398.5L1574.3 1411.7L1575.5 1424.8L1576.9 1438L1577.2 1443L1578 1446L1579.5 1447.7 M1572.2 1447.7L1572.2 1448L1574 1446.8L1572.4 1442L1570 1427.9L1568.3 1413.8L1567 1399.7L1566 1385.7L1565.2 1371.6L1564.6 1357.5L1564 1343.4L1563.5 1329.3L1563.1 1315.2L1562.7 1301.1L1562.3 1287L1562 1273L1561.7 1258.9L1561.4 1244.8L1561.2 1230.7L1560.9 1216.6L1560.7 1202.5L1560.5 1188.4L1560.4 1174.3L1560.2 1160.3L1560.1 1146.2L1559.9 1132.1L1559.8 1118L1558.8 778.3 M1638.5 902.3L1638.6 945.5L1638.7 988.7L1638.8 1031.9L1639.1 1075.2L1639.4 1118.4L1639.8 1161.6L1640.4 1204.8L1641.2 1248L1641.5 1261.2L1641.8 1274.3L1642.2 1287.5L1642.6 1300.6L1643.1 1313.8L1643.6 1326.9L1644.1 1340.1L1644.7 1353.3L1645.4 1366.4L1646.2 1379.6L1647 1392.7L1648 1405.9L1649 1419.1L1650.1 1432.2L1651.4 1445.4L1652.8 1458.5L1654.3 1471.7L1656 1484.8L1657.9 1498L1658.7 1503L1659.5 1506L1661 1507.7 M1621.5 1502.7L1623.6 1503L1627.8 1501.8L1626.4 1497L1627.1 1482.9L1628.4 1468.8L1629.7 1454.7L1631 1440.7L1632.1 1426.6L1633.1 1412.5L1633.9 1398.4L1634.5 1384.3L1634.9 1370.2L1635.2 1356.1L1635.5 1342L1635.6 1328L1635.7 1313.9L1635.8 1299.8L1635.8 1285.7L1635.8 1271.6L1635.7 1257.5L1635.6 1243.4L1635.6 1229.3L1635.5 1215.3L1635.4 1201.2L1635.3 1187.1L1635.2 1173L1634.3 902.3 M1662 902.3L1662.1 945.5L1662.2 988.7L1662.4 1031.9L1662.7 1075.2L1663.1 1118.4L1663.6 1161.6L1664.4 1204.8L1665.4 1248L1665.8 1261.2L1666.3 1274.3L1666.7 1287.5L1667.3 1300.6L1667.9 1313.8L1668.5 1326.9L1669.2 1340.1L1670 1353.3L1670.9 1366.4L1671.9 1379.6L1673 1392.7L1674.2 1405.9L1675.5 1419.1L1677 1432.2L1678.6 1445.4L1680.4 1458.5L1682.4 1471.7L1684.6 1484.8L1687 1498L1688.2 1503L1689 1506L1690.5 1507.7 M1661 1507.7L1663.1 1508L1667.3 1506.8L1665.6 1502L1664.1 1487.9L1663.4 1473.8L1663.1 1459.7L1663 1445.7L1663 1431.6L1662.9 1417.5L1662.8 1403.4L1662.7 1389.3L1662.5 1375.2L1662.3 1361.1L1662.1 1347L1661.8 1333L1661.6 1318.9L1661.3 1304.8L1661.1 1290.7L1660.8 1276.6L1660.6 1262.5L1660.3 1248.4L1660.1 1234.3L1659.9 1220.3L1659.7 1206.2L1659.5 1192.1L1659.3 1178L1657.8 902.3 M1686 902.3L1686.1 945.5L1686.2 988.7L1686.3 1031.9L1686.5 1075.2L1686.7 1118.4L1687.1 1161.6L1687.6 1204.8L1688.3 1248L1688.6 1261.2L1688.8 1274.3L1689.2 1287.5L1689.5 1300.6L1689.9 1313.8L1690.3 1326.9L1690.8 1340.1L1691.4 1353.3L1691.9 1366.4L1692.6 1379.6L1693.3 1392.7L1694.1 1405.9L1695 1419.1L1696 1432.2L1697.1 1445.4L1698.2 1458.5L1699.6 1471.7L1701 1484.8L1702.7 1498L1703.2 1503L1704 1506L1705.5 1507.7 M1690.5 1507.7L1692.2 1508L1695.8 1506.8L1693.7 1502L1691.1 1487.9L1689.5 1473.8L1688.5 1459.7L1687.7 1445.7L1687.2 1431.6L1686.8 1417.5L1686.4 1403.4L1686.1 1389.3L1685.8 1375.2L1685.5 1361.1L1685.2 1347L1685 1333L1684.7 1318.9L1684.5 1304.8L1684.2 1290.7L1684 1276.6L1683.8 1262.5L1683.6 1248.4L1683.5 1234.3L1683.3 1220.3L1683.1 1206.2L1683 1192.1L1682.9 1178L1681.8 902.3 M1694 902.3L1694.1 945.5L1694.2 988.7L1694.3 1031.9L1694.5 1075.2L1694.7 1118.4L1695 1161.6L1695.5 1204.8L1696.2 1248L1696.4 1261.2L1696.7 1274.3L1697 1287.5L1697.3 1300.6L1697.7 1313.8L1698.1 1326.9L1698.6 1340.1L1699.1 1353.3L1699.6 1366.4L1700.2 1379.6L1700.9 1392.7L1701.7 1405.9L1702.5 1419.1L1703.4 1432.2L1704.4 1445.4L1705.6 1458.5L1706.8 1471.7L1708.2 1484.8L1709.7 1498L1710.2 1503L1711 1506L1712.5 1507.7 M1705.5 1507.7L1705.5 1508L1707.2 1506.8L1705.5 1502L1702.8 1487.9L1700.9 1473.8L1699.5 1459.7L1698.3 1445.7L1697.4 1431.6L1696.6 1417.5L1695.9 1403.4L1695.3 1389.3L1694.8 1375.2L1694.3 1361.1L1693.9 1347L1693.5 1333L1693.1 1318.9L1692.8 1304.8L1692.5 1290.7L1692.2 1276.6L1692 1262.5L1691.8 1248.4L1691.6 1234.3L1691.4 1220.3L1691.2 1206.2L1691 1192.1L1690.9 1178L1689.8 902.3 M1705 902.3L1705.1 945.5L1705.2 988.7L1705.3 1031.9L1705.5 1075.2L1705.7 1118.4L1706 1161.6L1706.5 1204.8L1707.2 1248L1707.4 1261.2L1707.7 1274.3L1708 1287.5L1708.3 1300.6L1708.7 1313.8L1709.1 1326.9L1709.6 1340.1L1710.1 1353.3L1710.6 1366.4L1711.2 1379.6L1711.9 1392.7L1712.7 1405.9L1713.5 1419.1L1714.4 1432.2L1715.4 1445.4L1716.6 1458.5L1717.8 1471.7L1719.2 1484.8L1720.7 1498L1721.2 1503L1722 1506L1723.5 1507.7 M1712.5 1507.7L1713.3 1508L1716 1506.8L1714.1 1502L1711.5 1487.9L1709.8 1473.8L1708.6 1459.7L1707.7 1445.7L1707 1431.6L1706.5 1417.5L1706 1403.4L1705.5 1389.3L1705.1 1375.2L1704.8 1361.1L1704.4 1347L1704.1 1333L1703.8 1318.9L1703.5 1304.8L1703.3 1290.7L1703 1276.6L1702.8 1262.5L1702.6 1248.4L1702.4 1234.3L1702.3 1220.3L1702.1 1206.2L1702 1192.1L1701.9 1178L1700.8 902.3 M1712 902.3L1712.1 945.5L1712.2 988.7L1712.3 1031.9L1712.5 1075.2L1712.7 1118.4L1713.1 1161.6L1713.6 1204.8L1714.3 1248L1714.6 1261.2L1714.8 1274.3L1715.2 1287.5L1715.5 1300.6L1715.9 1313.8L1716.3 1326.9L1716.8 1340.1L1717.4 1353.3L1717.9 1366.4L1718.6 1379.6L1719.3 1392.7L1720.1 1405.9L1721 1419.1L1722 1432.2L1723.1 1445.4L1724.2 1458.5L1725.6 1471.7L1727 1484.8L1728.7 1498L1729.2 1503L1730 1506L1731.5 1507.7 M1723.5 1507.7L1723.7 1508L1725.6 1506.8L1723.9 1502L1721.1 1487.9L1719.2 1473.8L1717.7 1459.7L1716.6 1445.7L1715.6 1431.6L1714.8 1417.5L1714.1 1403.4L1713.5 1389.3L1713 1375.2L1712.5 1361.1L1712 1347L1711.6 1333L1711.3 1318.9L1710.9 1304.8L1710.6 1290.7L1710.3 1276.6L1710.1 1262.5L1709.9 1248.4L1709.6 1234.3L1709.4 1220.3L1709.3 1206.2L1709.1 1192.1L1709 1178L1707.8 902.3 M1730 902.3L1730.1 945.5L1730.1 988.7L1730.2 1031.9L1730.4 1075.2L1730.6 1118.4L1730.9 1161.6L1731.3 1204.8L1731.9 1248L1732.1 1261.2L1732.4 1274.3L1732.6 1287.5L1732.9 1300.6L1733.3 1313.8L1733.6 1326.9L1734 1340.1L1734.5 1353.3L1735 1366.4L1735.5 1379.6L1736.1 1392.7L1736.8 1405.9L1737.5 1419.1L1738.3 1432.2L1739.2 1445.4L1740.2 1458.5L1741.3 1471.7L1742.5 1484.8L1743.9 1498L1744.2 1503L1745 1506L1746.5 1507.7 M1731.5 1507.7L1733.2 1508L1736.8 1506.8L1734.8 1502L1732.5 1487.9L1731.2 1473.8L1730.4 1459.7L1729.9 1445.7L1729.6 1431.6L1729.3 1417.5L1729.1 1403.4L1728.9 1389.3L1728.7 1375.2L1728.6 1361.1L1728.4 1347L1728.2 1333L1728 1318.9L1727.9 1304.8L1727.7 1290.7L1727.5 1276.6L1727.4 1262.5L1727.3 1248.4L1727.1 1234.3L1727 1220.3L1726.9 1206.2L1726.8 1192.1L1726.7 1178L1725.8 902.3 M1745 902.3L1745.1 945.5L1745.1 988.7L1745.2 1031.9L1745.3 1075.2L1745.5 1118.4L1745.8 1161.6L1746.2 1204.8L1746.7 1248L1746.8 1261.2L1747.1 1274.3L1747.3 1287.5L1747.5 1300.6L1747.8 1313.8L1748.1 1326.9L1748.5 1340.1L1748.9 1353.3L1749.3 1366.4L1749.8 1379.6L1750.3 1392.7L1750.9 1405.9L1751.5 1419.1L1752.2 1432.2L1753 1445.4L1753.8 1458.5L1754.8 1471.7L1755.9 1484.8L1757 1498L1757.2 1503L1758 1506L1759.5 1507.7 M1746.5 1507.7L1747.7 1508L1750.9 1506.8L1749.1 1502L1747 1487.9L1745.7 1473.8L1744.9 1459.7L1744.5 1445.7L1744.2 1431.6L1743.9 1417.5L1743.7 1403.4L1743.5 1389.3L1743.4 1375.2L1743.2 1361.1L1743 1347L1742.9 1333L1742.7 1318.9L1742.6 1304.8L1742.4 1290.7L1742.3 1276.6L1742.2 1262.5L1742.1 1248.4L1741.9 1234.3L1741.8 1220.3L1741.7 1206.2L1741.6 1192.1L1741.6 1178L1740.8 902.3 M1757 902.3L1757 945.5L1757.1 988.7L1757.2 1031.9L1757.3 1075.2L1757.5 1118.4L1757.7 1161.6L1758 1204.8L1758.4 1248L1758.6 1261.2L1758.7 1274.3L1758.9 1287.5L1759.1 1300.6L1759.4 1313.8L1759.7 1326.9L1759.9 1340.1L1760.3 1353.3L1760.6 1366.4L1761 1379.6L1761.5 1392.7L1762 1405.9L1762.5 1419.1L1763.1 1432.2L1763.8 1445.4L1764.5 1458.5L1765.3 1471.7L1766.2 1484.8L1767.2 1498L1767.2 1503L1768 1506L1769.5 1507.7 M1759.5 1507.7L1760.1 1508L1762.5 1506.8L1761 1502L1759 1487.9L1757.8 1473.8L1757 1459.7L1756.4 1445.7L1756.1 1431.6L1755.8 1417.5L1755.6 1403.4L1755.4 1389.3L1755.2 1375.2L1755 1361.1L1754.8 1347L1754.7 1333L1754.5 1318.9L1754.4 1304.8L1754.3 1290.7L1754.1 1276.6L1754 1262.5L1753.9 1248.4L1753.8 1234.3L1753.7 1220.3L1753.6 1206.2L1753.5 1192.1L1753.5 1178L1752.8 902.3 M1612 1452L1613 1490L1615 1503L1626 1503" fill="none" stroke="#00c064" stroke-width="4.6" stroke-linejoin="round" stroke-linecap="round"/>
<path d="M1199.8 160.5L1206.8 160.5L1206.8 800L1208 840L1210 880L1206 880L1203 845L1200.8 815L1199.8 780Z" fill="#00669c"/>
<rect x="1288.8" y="162" width="7.2" height="883" fill="#00669c"/>
<rect x="1350" y="408" width="5.6" height="777" fill="#00669c"/>
<rect x="1423.4" y="654" width="6.4" height="446" fill="#00669c"/>
<rect x="1304.4" y="159.5" width="15.8" height="987.5" fill="#00669c"/>
<rect x="1288.8" y="1040" width="10.2" height="103" fill="#00669c"/>
<path d="M1359 407.5L1362 404.6L1374 404.6L1375.5 500L1377 700L1380 1000L1381 1270L1361.5 1270L1361 1000L1360.5 700L1359 450Z" fill="#00669c"/>
<rect x="1350.5" y="1180" width="7.5" height="84" fill="#00669c"/>
<path d="M1447.4 655L1452 651.7L1481.8 651.7L1482.5 700L1485 900L1487 1100L1488.5 1389L1451 1389L1449.5 1100L1448 800Z" fill="#00669c"/>
<path d="M1727 900L1784.5 900L1786 915L1800 1040L1812 1200L1824 1360L1826.5 1440L1826 1490L1822 1504L1815 1511L1745 1511L1728 1470L1712 1400L1707 1300L1709 1200L1716 1060L1722 960Z" fill="#00669c"/>
<path d="M1203.2 160L1203.2 800L1204 830L1207.6 860L1209 930L1210.5 978L1214 1020L1217.5 1057L1222 1090L1227 1116.5L1232 1132L1238.5 1138.5L1245 1130L1251 1112.6L1258 1085L1265 1057L1272 1015L1278.7 978L1284 945L1288.5 919L1291 890L1292.3 860L1292.3 161 M1293 161L1294 1000L1295 1143 M1318 1140L1318.5 1200L1319.5 1235L1321 1252L1323 1262.5L1326 1258L1330 1245L1335 1228L1341 1205L1346 1180L1350 1150L1352 1100L1352.7 1000L1352.7 407 M1353 407L1353.5 1100L1354 1264 M1378 1265L1379 1320L1381 1350L1384 1372L1389 1385L1393 1378L1398 1360L1404 1335L1411 1300L1418 1255L1422 1210L1425 1150L1426.3 1050L1426.5 653.6 M1426.8 653.6L1427.5 1000L1429 1200L1431 1330L1433 1387 M1433 1387L1437 1370L1441 1340L1445 1300L1448 1250L1450 1150L1451 1000 M1571 902.3L1571.1 945.6L1571.2 989L1571.4 1032.3L1571.6 1075.7L1571.9 1119L1572.4 1162.3L1573 1205.7L1573.9 1249L1574.2 1262.2L1574.6 1275.3L1575 1288.5L1575.4 1301.6L1575.9 1314.8L1576.5 1327.9L1577.1 1341.1L1577.7 1354.3L1578.5 1367.4L1579.3 1380.6L1580.2 1393.7L1581.2 1406.9L1582.3 1420.1L1583.5 1433.2L1584.9 1446.4L1586.4 1459.5L1588 1472.7L1589.9 1485.8L1591.9 1499L1592.8 1504L1593.6 1507L1595.1 1508.7 M1505.9 1508.7L1508 1509L1512.2 1507.8L1515.3 1503L1523.7 1488.9L1531.2 1474.8L1537.8 1460.7L1543.3 1446.7L1548 1432.6L1551.9 1418.5L1555.1 1404.4L1557.7 1390.3L1559.8 1376.2L1561.5 1362.1L1562.9 1348L1563.9 1334L1564.8 1319.9L1565.5 1305.8L1566 1291.7L1566.4 1277.6L1566.7 1263.5L1566.9 1249.4L1567.1 1235.3L1567.2 1221.3L1567.2 1207.2L1567.3 1193.1L1567.3 1179L1566.8 902.3 M1623.5 902.3L1623.6 945.6L1623.7 989L1623.9 1032.3L1624.1 1075.7L1624.4 1119L1624.8 1162.3L1625.4 1205.7L1626.3 1249L1626.6 1262.2L1627 1275.3L1627.4 1288.5L1627.8 1301.6L1628.3 1314.8L1628.8 1327.9L1629.4 1341.1L1630 1354.3L1630.8 1367.4L1631.6 1380.6L1632.4 1393.7L1633.4 1406.9L1634.5 1420.1L1635.7 1433.2L1637 1446.4L1638.5 1459.5L1640.1 1472.7L1641.9 1485.8L1643.9 1499L1644.7 1504L1645.5 1507L1647 1508.7 M1595.1 1508.7L1597.2 1509L1601.4 1507.8L1601.7 1503L1604.2 1488.9L1606.9 1474.8L1609.4 1460.7L1611.7 1446.7L1613.7 1432.6L1615.3 1418.5L1616.6 1404.4L1617.6 1390.3L1618.4 1376.2L1619.1 1362.1L1619.6 1348L1619.9 1334L1620.2 1319.9L1620.3 1305.8L1620.4 1291.7L1620.5 1277.6L1620.5 1263.5L1620.5 1249.4L1620.5 1235.3L1620.4 1221.3L1620.3 1207.2L1620.3 1193.1L1620.2 1179L1619.3 902.3 M1654 902.3L1654.1 945.6L1654.2 989L1654.4 1032.3L1654.7 1075.7L1655.1 1119L1655.6 1162.3L1656.4 1205.7L1657.4 1249L1657.8 1262.2L1658.3 1275.3L1658.7 1288.5L1659.3 1301.6L1659.9 1314.8L1660.5 1327.9L1661.2 1341.1L1662 1354.3L1662.9 1367.4L1663.9 1380.6L1665 1393.7L1666.2 1406.9L1667.5 1420.1L1669 1433.2L1670.6 1446.4L1672.4 1459.5L1674.4 1472.7L1676.6 1485.8L1679 1499L1680.2 1504L1681 1507L1682.5 1508.7 M1647 1508.7L1649.1 1509L1653.3 1507.8L1652.1 1503L1651.5 1488.9L1651.6 1474.8L1652 1460.7L1652.4 1446.7L1652.8 1432.6L1653.1 1418.5L1653.4 1404.4L1653.5 1390.3L1653.5 1376.2L1653.5 1362.1L1653.4 1348L1653.3 1334L1653.1 1319.9L1652.9 1305.8L1652.7 1291.7L1652.5 1277.6L1652.3 1263.5L1652.1 1249.4L1651.9 1235.3L1651.8 1221.3L1651.6 1207.2L1651.4 1193.1L1651.3 1179L1649.8 902.3 M1676 902.3L1676.1 945.6L1676.2 989L1676.4 1032.3L1676.7 1075.7L1677 1119L1677.5 1162.3L1678.2 1205.7L1679.2 1249L1679.5 1262.2L1679.9 1275.3L1680.4 1288.5L1680.9 1301.6L1681.4 1314.8L1682 1327.9L1682.7 1341.1L1683.4 1354.3L1684.3 1367.4L1685.2 1380.6L1686.2 1393.7L1687.3 1406.9L1688.5 1420.1L1689.9 1433.2L1691.4 1446.4L1693 1459.5L1694.9 1472.7L1696.9 1485.8L1699.1 1499L1700.2 1504L1701 1507L1702.5 1508.7 M1682.5 1508.7L1684.6 1509L1688.8 1507.8L1686.5 1503L1683.7 1488.9L1681.9 1474.8L1680.8 1460.7L1680 1446.7L1679.3 1432.6L1678.8 1418.5L1678.3 1404.4L1677.9 1390.3L1677.4 1376.2L1677 1362.1L1676.6 1348L1676.3 1334L1675.9 1319.9L1675.5 1305.8L1675.2 1291.7L1674.9 1277.6L1674.6 1263.5L1674.4 1249.4L1674.1 1235.3L1673.9 1221.3L1673.7 1207.2L1673.5 1193.1L1673.3 1179L1671.8 902.3 M1690 902.3L1690.1 945.6L1690.3 989L1690.5 1032.3L1690.8 1075.7L1691.3 1119L1691.9 1162.3L1692.7 1205.7L1693.9 1249L1694.3 1262.2L1694.8 1275.3L1695.4 1288.5L1696 1301.6L1696.6 1314.8L1697.4 1327.9L1698.2 1341.1L1699.1 1354.3L1700.1 1367.4L1701.2 1380.6L1702.4 1393.7L1703.8 1406.9L1705.3 1420.1L1707 1433.2L1708.8 1446.4L1710.8 1459.5L1713.1 1472.7L1715.6 1485.8L1718.3 1499L1719.8 1504L1720.6 1507L1722.1 1508.7 M1702.5 1508.7L1704.6 1509L1708.8 1507.8L1706.2 1503L1702.7 1488.9L1700.5 1474.8L1698.8 1460.7L1697.6 1446.7L1696.6 1432.6L1695.7 1418.5L1694.9 1404.4L1694.2 1390.3L1693.5 1376.2L1692.9 1362.1L1692.3 1348L1691.7 1334L1691.2 1319.9L1690.7 1305.8L1690.3 1291.7L1689.8 1277.6L1689.5 1263.5L1689.1 1249.4L1688.8 1235.3L1688.5 1221.3L1688.2 1207.2L1687.9 1193.1L1687.7 1179L1685.8 902.3 M1702 902.3L1702.1 945.6L1702.3 989L1702.5 1032.3L1702.8 1075.7L1703.3 1119L1703.9 1162.3L1704.7 1205.7L1705.9 1249L1706.4 1262.2L1706.9 1275.3L1707.4 1288.5L1708.1 1301.6L1708.7 1314.8L1709.5 1327.9L1710.3 1341.1L1711.2 1354.3L1712.2 1367.4L1713.4 1380.6L1714.6 1393.7L1716 1406.9L1717.5 1420.1L1719.2 1433.2L1721 1446.4L1723.1 1459.5L1725.4 1472.7L1727.9 1485.8L1730.7 1499L1732.2 1504L1733 1507L1734.5 1508.7 M1722.1 1508.7L1723.2 1509L1726.2 1507.8L1723.7 1503L1719.7 1488.9L1716.8 1474.8L1714.6 1460.7L1712.8 1446.7L1711.3 1432.6L1710 1418.5L1708.8 1404.4L1707.8 1390.3L1706.8 1376.2L1706 1362.1L1705.2 1348L1704.5 1334L1703.9 1319.9L1703.3 1305.8L1702.7 1291.7L1702.2 1277.6L1701.8 1263.5L1701.4 1249.4L1701 1235.3L1700.7 1221.3L1700.4 1207.2L1700.1 1193.1L1699.8 1179L1697.8 902.3 M1714 902.3L1714.1 945.6L1714.3 989L1714.5 1032.3L1714.8 1075.7L1715.3 1119L1715.9 1162.3L1716.7 1205.7L1717.9 1249L1718.4 1262.2L1718.9 1275.3L1719.4 1288.5L1720.1 1301.6L1720.7 1314.8L1721.5 1327.9L1722.3 1341.1L1723.2 1354.3L1724.2 1367.4L1725.4 1380.6L1726.6 1393.7L1728 1406.9L1729.5 1420.1L1731.2 1433.2L1733 1446.4L1735.1 1459.5L1737.4 1472.7L1739.9 1485.8L1742.7 1499L1744.2 1504L1745 1507L1746.5 1508.7 M1734.5 1508.7L1735.5 1509L1738.5 1507.8L1735.9 1503L1731.9 1488.9L1729 1474.8L1726.8 1460.7L1725 1446.7L1723.4 1432.6L1722.1 1418.5L1720.9 1404.4L1719.9 1390.3L1718.9 1376.2L1718 1362.1L1717.3 1348L1716.5 1334L1715.9 1319.9L1715.3 1305.8L1714.7 1291.7L1714.3 1277.6L1713.8 1263.5L1713.4 1249.4L1713 1235.3L1712.7 1221.3L1712.4 1207.2L1712.1 1193.1L1711.8 1179L1709.8 902.3 M1725 902.3L1725.1 945.6L1725.3 989L1725.5 1032.3L1725.9 1075.7L1726.3 1119L1726.9 1162.3L1727.8 1205.7L1729.1 1249L1729.5 1262.2L1730.1 1275.3L1730.6 1288.5L1731.3 1301.6L1732 1314.8L1732.7 1327.9L1733.6 1341.1L1734.5 1354.3L1735.6 1367.4L1736.7 1380.6L1738 1393.7L1739.4 1406.9L1741 1420.1L1742.7 1433.2L1744.7 1446.4L1746.8 1459.5L1749.1 1472.7L1751.7 1485.8L1754.6 1499L1756.2 1504L1757 1507L1758.5 1508.7 M1746.5 1508.7L1747.5 1509L1750.5 1507.8L1747.8 1503L1743.8 1488.9L1740.8 1474.8L1738.5 1460.7L1736.6 1446.7L1735 1432.6L1733.6 1418.5L1732.4 1404.4L1731.3 1390.3L1730.3 1376.2L1729.4 1362.1L1728.5 1348L1727.8 1334L1727.1 1319.9L1726.5 1305.8L1725.9 1291.7L1725.4 1277.6L1724.9 1263.5L1724.5 1249.4L1724.1 1235.3L1723.8 1221.3L1723.5 1207.2L1723.2 1193.1L1722.9 1179L1720.8 902.3 M1487 1380L1486.5 1407L1488 1426L1491.4 1463L1498.8 1490.7L1504.4 1509" fill="none" stroke="#00669c" stroke-width="4.6" stroke-linejoin="round" stroke-linecap="round"/>
<text x="79.5" y="1745" font-size="77" text-anchor="middle" font-family="Liberation Serif, serif">-3.0</text>
<text x="640.8" y="1745" font-size="77" text-anchor="middle" font-family="Liberation Serif, serif">-1.5</text>
<text x="1202.0" y="1745" font-size="77" text-anchor="middle" font-family="Liberation Serif, serif">0.0</text>
<text x="1763.2" y="1745" font-size="77" text-anchor="middle" font-family="Liberation Serif, serif">1.5</text>
<text x="2324.5" y="1745" font-size="77" text-anchor="middle" font-family="Liberation Serif, serif">3.0</text>
<text x="1178" y="141" font-size="77" text-anchor="end" font-family="Liberation Serif, serif">16</text>
<text x="1178" y="633" font-size="77" text-anchor="end" font-family="Liberation Serif, serif">12</text>
<text x="1178" y="1126" font-size="77" text-anchor="end" font-family="Liberation Serif, serif">8</text>
<text x="1178" y="1615" font-size="77" text-anchor="end" font-family="Liberation Serif, serif">4</text>
<text x="1210.9" y="1863" font-size="100" text-anchor="middle" font-family="Liberation Serif, serif">Strain (%)</text>
<text transform="translate(1067.5,1152) rotate(-90)" font-size="89.6" text-anchor="middle" font-family="Liberation Serif, serif">Confining Pressure (MPa)</text>
<rect x="1452.6" y="124.5" width="158.4" height="5.4" fill="#ffc000"/>
<text x="1622.5" y="148.5" font-size="67.8" font-family="Liberation Serif, serif">BB-01 Radial Strain</text>
<rect x="1452.6" y="207.9" width="158.4" height="5.4" fill="#00c16a"/>
<text x="1622.5" y="234.0" font-size="67.8" font-family="Liberation Serif, serif">BB-01 Axial Strain</text>
<rect x="1452.6" y="294.2" width="158.4" height="5.4" fill="#ff0000"/>
<text x="1622.5" y="320.4" font-size="67.8" font-family="Liberation Serif, serif">BB-02 Radial Strain</text>
<rect x="1452.6" y="380.1" width="158.4" height="5.4" fill="#00669c"/>
<text x="1622.5" y="404.3" font-size="67.8" font-family="Liberation Serif, serif">BB-02 Axial Strain</text>
</svg>
</body></html>
